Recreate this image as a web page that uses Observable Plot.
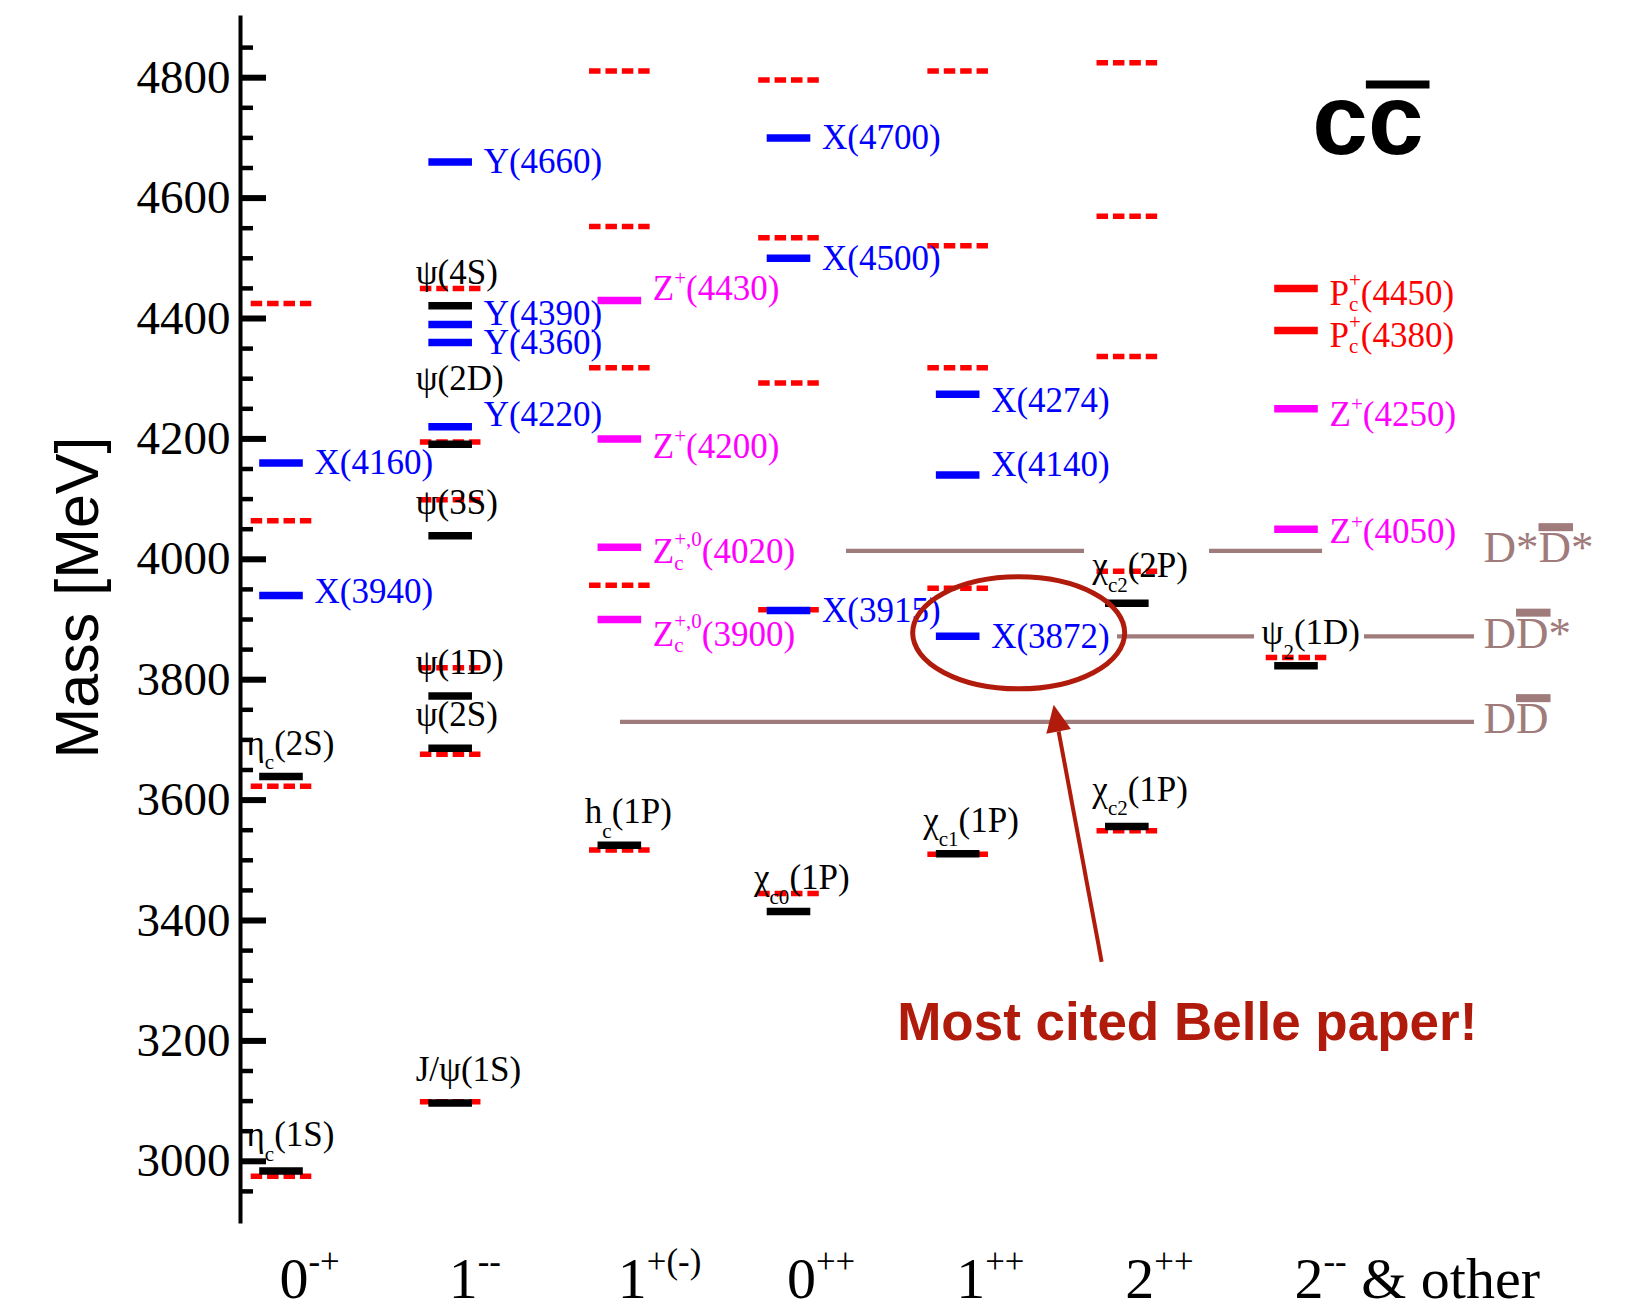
<!DOCTYPE html>
<html>
<head>
<meta charset="utf-8">
<script src="https://cdn.jsdelivr.net/npm/d3@7"></script>
<script src="https://cdn.jsdelivr.net/npm/@observablehq/plot@0.6"></script>
<style>
  html, body { margin: 0; padding: 0; background: #fff; }
  #chart svg { display: block; }
</style>
</head>
<body>
<div id="chart"></div>
<script>
// ---- Charmonium spectrum: J^PC columns and mass levels (MeV) ----
// Markup in labels: _{..} subscript, ^{..} superscript, ~{..} overbar.
const categories = ["0^{-+}", "1^{--}", "1^{+(-)}", "0^{++}", "1^{++}", "2^{++}", "2^{--} & other"];

const massTicks = [3000, 3200, 3400, 3600, 3800, 4000, 4200, 4400, 4600, 4800];

// Potential-model predictions (dashed red)
const predicted = [
  {col: 0, mass: 2975}, {col: 0, mass: 3623}, {col: 0, mass: 4064}, {col: 0, mass: 4425},
  {col: 1, mass: 3099}, {col: 1, mass: 3676}, {col: 1, mass: 3820}, {col: 1, mass: 4099}, {col: 1, mass: 4195}, {col: 1, mass: 4450},
  {col: 2, mass: 3517}, {col: 2, mass: 3957}, {col: 2, mass: 4318}, {col: 2, mass: 4553}, {col: 2, mass: 4811},
  {col: 3, mass: 3445}, {col: 3, mass: 3916}, {col: 3, mass: 4293}, {col: 3, mass: 4534}, {col: 3, mass: 4796},
  {col: 4, mass: 3510}, {col: 4, mass: 3952}, {col: 4, mass: 4318}, {col: 4, mass: 4521}, {col: 4, mass: 4811},
  {col: 5, mass: 3549}, {col: 5, mass: 3980}, {col: 5, mass: 4337}, {col: 5, mass: 4570}, {col: 5, mass: 4825},
  {col: 6, mass: 3837}
];

// Conventional charmonia (black)
const charmonia = [
  {col: 0, mass: 2984, name: "η_{c}(1S)"},
  {col: 0, mass: 3639, name: "η_{c}(2S)"},
  {col: 1, mass: 3097, name: "J/ψ(1S)"},
  {col: 1, mass: 3686, name: "ψ(2S)"},
  {col: 1, mass: 3773, name: "ψ(1D)"},
  {col: 1, mass: 4039, name: "ψ(3S)"},
  {col: 1, mass: 4191, name: "ψ(2D)"},
  {col: 1, mass: 4421, name: "ψ(4S)"},
  {col: 2, mass: 3525, name: "h_{c}(1P)"},
  {col: 3, mass: 3415, name: "χ_{c0}(1P)"},
  {col: 4, mass: 3511, name: "χ_{c1}(1P)"},
  {col: 5, mass: 3556, name: "χ_{c2}(1P)"},
  {col: 5, mass: 3927, name: "χ_{c2}(2P)"},
  {col: 6, mass: 3823, name: "ψ_{2}(1D)"}
];

// Neutral exotic candidates (blue)
const xyStates = [
  {col: 0, name: "X", mass: 4160}, {col: 0, name: "X", mass: 3940},
  {col: 1, name: "Y", mass: 4660}, {col: 1, name: "Y", mass: 4390}, {col: 1, name: "Y", mass: 4360}, {col: 1, name: "Y", mass: 4220},
  {col: 3, name: "X", mass: 4700}, {col: 3, name: "X", mass: 4500}, {col: 3, name: "X", mass: 3915},
  {col: 4, name: "X", mass: 4274}, {col: 4, name: "X", mass: 4140}, {col: 4, name: "X", mass: 3872}
];

// Charged exotic candidates (magenta)
const zStates = [
  {col: 2, name: "Z^{+}", mass: 4430}, {col: 2, name: "Z^{+}", mass: 4200},
  {col: 2, name: "Z_{c}^{+,0}", mass: 4020}, {col: 2, name: "Z_{c}^{+,0}", mass: 3900},
  {col: 6, name: "Z^{+}", mass: 4250}, {col: 6, name: "Z^{+}", mass: 4050}
];

// Pentaquark candidates (red)
const pcStates = [
  {col: 6, name: "P_{c}^{+}", mass: 4450}, {col: 6, name: "P_{c}^{+}", mass: 4380}
];

// Open-charm thresholds
const thresholds = [
  {name: "D*~{D}*", mass: 4014},
  {name: "D~{D}*", mass: 3872},
  {name: "D~{D}", mass: 3730}
];

const calloutText = "Most cited Belle paper!";

// ---- Layout ----
const W = 1628, H = 1310;
const margin = {top: 17, right: 0, bottom: 89, left: 240};
const massDomain = [2900, 4900];
const colRange = [281, 1296];
const colUnit = (colRange[1] - colRange[0]) / 6;
const pxPerMeV = (H - margin.top - margin.bottom) / (massDomain[1] - massDomain[0]);
const frameW = W - margin.left - margin.right;
const barHalf = 21.8 / colUnit;
const predHalf = 30.3 / colUnit;

// threshold lines are broken where they would cross labels (column units)
const thresholdSpans = {
  4014: [[3.34, 4.747], [5.486, 6.154]],
  3872: [[4.942, 5.752], [6.402, 7.052]],
  3730: [[2.004, 7.052]]
};
const thresholdSegments = thresholds.flatMap(t =>
  thresholdSpans[t.mass].map(([from, to]) => ({mass: t.mass, from, to})));

const minorTicks = d3.range(2950, 4851, 50).filter(v => v % 200 !== 0);

// vertical nudges for a few crowded labels (px, negative = up)
const labelNudge = {
  "Y(4390)": -11, "Y(4220)": -12, "X(4140)": -10, "X(4274)": 6, "X(3940)": -4,
  "Z^{+}(4430)": -12, "Z^{+}(4200)": 8, "Z_{c}^{+,0}(4020)": 5, "Z_{c}^{+,0}(3900)": 15,
  "Z^{+}(4250)": 6, "Z^{+}(4050)": 3, "P_{c}^{+}(4450)": 5, "P_{c}^{+}(4380)": 5
};
const blackLabelLift = {"ψ(2D)": 54, "χ_{c2}(1P)": 26, "χ_{c2}(2P)": 26, "η_{c}(1S)": 25};

const serif = "'Liberation Serif', 'Times New Roman', Times, serif";
const sans = "'Liberation Sans', Arial, Helvetica, sans-serif";
const BLUE = "#0000ff", MAGENTA = "#ff00ff", RED = "#ff0000";
const THRESH = "#9f7b7b", CALLOUT = "#b11b0c";

const exoticLabel = d => `${d.name}(${d.mass})`;
const labelY = d => d.mass - (labelNudge[exoticLabel(d)] ?? 0) / pxPerMeV;

function levelBars(data, stroke, extra = {}) {
  return Plot.ruleY(data, {
    y: "mass", x1: d => d.col - barHalf, x2: d => d.col + barHalf,
    stroke, strokeWidth: 7.5, ...extra
  });
}
function exoticLabels(data, fill) {
  return Plot.text(data, {
    x: "col", y: labelY, text: exoticLabel, dx: 33,
    textAnchor: "start", lineAnchor: "middle",
    fill, fontSize: 35, fontFamily: serif
  });
}

const target = xyStates.find(d => d.mass === 3872);

function calloutMark(index, scales) {
  const cx = scales.x(target.col), cy = scales.y(target.mass);
  const g = d3.create("svg:g");
  g.append("ellipse")
    .attr("cx", cx + 61).attr("cy", cy - 3).attr("rx", 106).attr("ry", 56)
    .attr("fill", "none").attr("stroke", CALLOUT).attr("stroke-width", 5);
  const tip = [cx + 96, cy + 69], tail = [cx + 144, cy + 326];
  const a = Math.atan2(tip[1] - tail[1], tip[0] - tail[0]);
  const L = 27, hw = 12.5;
  const base = [tip[0] - L * Math.cos(a), tip[1] - L * Math.sin(a)];
  const px = -Math.sin(a) * hw, py = Math.cos(a) * hw;
  g.append("line")
    .attr("x1", tail[0]).attr("y1", tail[1]).attr("x2", base[0]).attr("y2", base[1])
    .attr("stroke", CALLOUT).attr("stroke-width", 4);
  g.append("path")
    .attr("d", `M${tip[0]},${tip[1]}L${base[0] + px},${base[1] + py}L${base[0] - px},${base[1] - py}Z`)
    .attr("fill", CALLOUT);
  return g.node();
}

const plot = Plot.plot({
  width: W, height: H,
  marginTop: margin.top, marginRight: margin.right,
  marginBottom: margin.bottom, marginLeft: margin.left,
  x: {domain: [0, 6], range: colRange, axis: null},
  y: {domain: massDomain},
  style: {background: "#fff", color: "#000", overflow: "visible"},
  marks: [
    // mass axis
    Plot.frame({anchor: "left", stroke: "#000", strokeWidth: 4}),
    Plot.tickY(minorTicks, {y: d => d, insetRight: frameW - 13, stroke: "#000", strokeWidth: 4.5}),
    Plot.tickY(massTicks, {y: d => d, insetRight: frameW - 26, stroke: "#000", strokeWidth: 6}),
    Plot.axisY(massTicks, {
      tickSize: 0, tickPadding: 10, tickFormat: "d", label: null,
      fontSize: 47, fontFamily: serif, fill: "#000"
    }),
    Plot.text(["Mass [MeV]"], {
      frameAnchor: "left", dx: -162, dy: -22, rotate: -90,
      textAnchor: "middle", lineAnchor: "middle",
      fontSize: 61, fontFamily: sans, fill: "#000"
    }),

    // thresholds
    Plot.ruleY(thresholdSegments, {y: "mass", x1: "from", x2: "to", stroke: THRESH, strokeWidth: 4.3}),

    // predictions, then observed levels
    Plot.ruleY(predicted, {
      y: "mass", x1: d => d.col - predHalf, x2: d => d.col + predHalf,
      stroke: RED, strokeWidth: 5.5, strokeDasharray: "11.5,4.9"
    }),
    levelBars(charmonia, "#000"),
    levelBars(xyStates, BLUE),
    levelBars(zStates, MAGENTA),
    levelBars(pcStates, RED),

    // labels
    Plot.text(charmonia, {
      x: "col", y: d => d.mass + ((blackLabelLift[d.name] ?? 22) - 22) / pxPerMeV,
      text: "name", dx: -35, dy: -22,
      textAnchor: "start", lineAnchor: "bottom",
      fill: "#000", fontSize: 35, fontFamily: serif
    }),
    exoticLabels(xyStates, BLUE),
    exoticLabels(zStates, MAGENTA),
    exoticLabels(pcStates, RED),

    Plot.text(thresholds, {
      frameAnchor: "right", y: "mass", text: "name", dx: -145, dy: -3,
      textAnchor: "start", lineAnchor: "middle",
      fill: THRESH, fontSize: 45, fontFamily: serif
    }),

    // J^PC column labels
    Plot.text(categories, {
      x: (d, i) => i, frameAnchor: "bottom", dx: -2, dy: 76,
      textAnchor: "start", lineAnchor: "bottom",
      fill: "#000", fontSize: 58, fontFamily: serif
    }),

    // c c-bar tag
    Plot.text(["c~{c}"], {
      frameAnchor: "top-right", dx: -205, dy: 136,
      textAnchor: "end", lineAnchor: "bottom",
      fill: "#000", fontSize: 100, fontWeight: "bold", fontFamily: sans
    }),

    // callout on X(3872)
    calloutMark,
    Plot.text([target], {
      x: "col", y: "mass", text: () => calloutText, dx: -61, dy: 404,
      textAnchor: "start", lineAnchor: "bottom",
      fill: CALLOUT, fontSize: 53, fontWeight: "bold", fontFamily: sans
    })
  ]
});

document.getElementById("chart").appendChild(plot);

// Rebuild marked-up label strings as tspans with sub/superscripts and overbars.
function applyRichText(svg) {
  const NS = "http://www.w3.org/2000/svg";
  svg.querySelectorAll("text").forEach(text => {
    const src = text.textContent;
    if (!/[_^~]\{/.test(src)) return;
    const segs = [];
    const re = /([_^~])\{([^}]*)\}|([^_^~]+)/g;
    let m;
    while ((m = re.exec(src))) {
      if (m[1]) segs.push({kind: m[1] === "_" ? "sub" : m[1] === "^" ? "sup" : "over", t: m[2]});
      else segs.push({kind: "base", t: m[3]});
    }
    const fs = parseFloat(getComputedStyle(text).fontSize);
    text.textContent = "";
    let shift = 0;
    const bars = [];
    segs.forEach((s, i) => {
      const prev = segs[i - 1], next = segs[i + 1];
      const stacked = (s.kind === "sub" && next && next.kind === "sup") ||
                      (s.kind === "sup" && prev && prev.kind === "sub");
      const t = document.createElementNS(NS, "tspan");
      t.textContent = s.t;
      let goal = 0;
      if (s.kind === "sub") goal = (stacked ? 0.18 : 0.42) * fs;
      if (s.kind === "sup") goal = -(stacked ? 0.5 : 0.42) * fs;
      if (s.kind === "sub" || s.kind === "sup") t.setAttribute("font-size", (0.6 * fs).toFixed(2));
      if (goal !== shift) t.setAttribute("dy", (goal - shift).toFixed(2));
      shift = goal;
      text.appendChild(t);
      s.el = t;
      s.w = t.getComputedTextLength();
      if (s.kind === "sup" && stacked) {
        t.setAttribute("dx", (-prev.w).toFixed(2));
        if (prev.w > s.w) s.extra = prev.w - s.w;
      }
      if (s.kind === "base" && prev && prev.extra) t.setAttribute("dx", prev.extra.toFixed(2));
      if (s.kind === "over") bars.push(t);
    });
    const fill = getComputedStyle(text).fill;
    bars.forEach(t => {
      const n = t.getNumberOfChars();
      const a = t.getStartPositionOfChar(0), b = t.getEndPositionOfChar(n - 1);
      const lower = t.textContent === t.textContent.toLowerCase();
      const off = (lower ? 0.69 : 0.78) * fs;
      const th = 8;
      const r = document.createElementNS(NS, "rect");
      r.setAttribute("x", (a.x - (lower ? 2 : 0)).toFixed(2));
      r.setAttribute("width", (b.x - a.x + (lower ? 8 : 2)).toFixed(2));
      r.setAttribute("y", (a.y - off - th / 2).toFixed(2));
      r.setAttribute("height", th);
      r.setAttribute("fill", fill);
      const tr = text.getAttribute("transform");
      if (tr) r.setAttribute("transform", tr);
      text.parentNode.insertBefore(r, text.nextSibling);
    });
  });
}
applyRichText(plot);
</script>
</body>
</html>
